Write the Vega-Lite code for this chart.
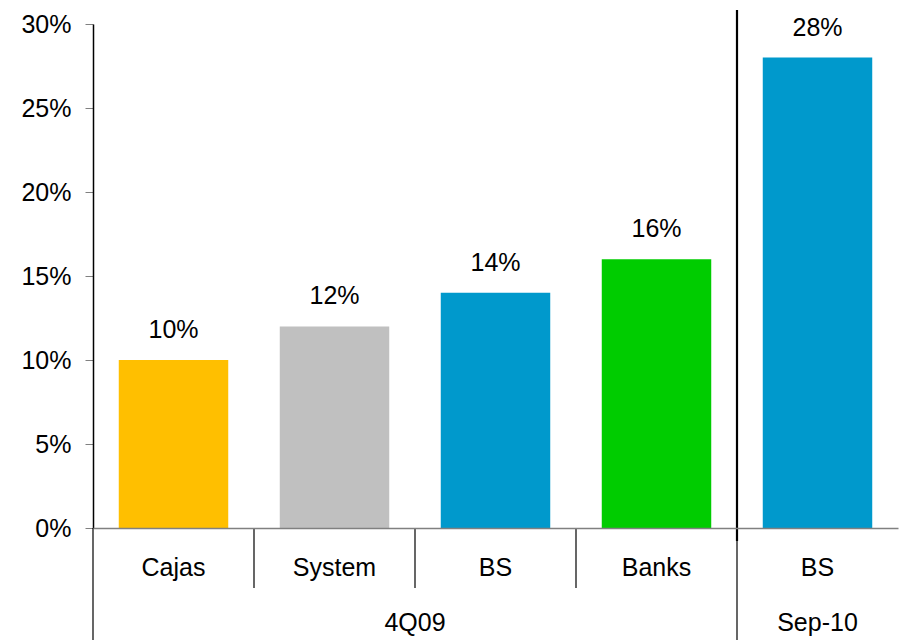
{
  "$schema": "https://vega.github.io/schema/vega-lite/v6.json",
  "width": 805,
  "height": 504,
  "autosize": {"type": "none"},
  "padding": {"left": 93, "top": 24, "right": 1, "bottom": 112},
  "background": "white",
  "config": {
    "font": "Liberation Sans",
    "view": {"stroke": null},
    "axis": {"grid": false}
  },
  "datasets": {
    "bars": [
      {"k": "Cajas", "v": 0.10},
      {"k": "System", "v": 0.12},
      {"k": "BS1", "v": 0.14},
      {"k": "Banks", "v": 0.16},
      {"k": "BS2", "v": 0.28}
    ],
    "minor": [
      {"k": "System", "top": 0, "bottom": -0.0357},
      {"k": "BS1", "top": 0, "bottom": -0.0357},
      {"k": "Banks", "top": 0, "bottom": -0.0357}
    ],
    "major": [
      {"k": "Cajas", "top": 0, "bottom": -0.0667},
      {"k": "BS2", "top": 0, "bottom": -0.0667}
    ],
    "divider": [
      {"k": "BS2", "top": 0.3083, "bottom": -0.0077}
    ],
    "g1": [{"k": "BS1", "name": "4Q09", "y": -0.0565}],
    "g2": [{"k": "BS2", "name": "Sep-10", "y": -0.0565}]
  },
  "layer": [
    {
      "data": {"name": "bars"},
      "mark": {"type": "bar", "width": {"band": 0.68}},
      "encoding": {
        "x": {
          "field": "k",
          "type": "nominal",
          "scale": {"type": "band", "domain": ["Cajas", "System", "BS1", "Banks", "BS2"], "paddingInner": 0, "paddingOuter": 0},
          "axis": {
            "title": null,
            "labelAngle": 0,
            "labelExpr": "datum.value == 'BS1' || datum.value == 'BS2' ? 'BS' : datum.value",
            "labelFontSize": 25,
            "labelColor": "black",
            "labelBaseline": "middle",
            "labelPadding": 39,
            "ticks": false,
            "domainColor": "#808080",
            "domainWidth": 1.5,
            "zindex": 1
          }
        },
        "y": {
          "field": "v",
          "type": "quantitative",
          "scale": {"domain": [0, 0.3], "nice": false, "zero": false},
          "axis": {
            "title": null,
            "values": [0, 0.05, 0.1, 0.15, 0.2, 0.25, 0.3],
            "format": ".0%",
            "labelFontSize": 25,
            "labelColor": "black",
            "labelPadding": 14,
            "tickSize": 8,
            "tickColor": "#808080",
            "domainColor": "black",
            "domainWidth": 1.5
          }
        },
        "color": {
          "field": "k",
          "type": "nominal",
          "scale": {"domain": ["Cajas", "System", "BS1", "Banks", "BS2"], "range": ["#FFBF00", "#C0C0C0", "#0099CC", "#00CC00", "#0099CC"]},
          "legend": null
        }
      }
    },
    {
      "data": {"name": "bars"},
      "mark": {"type": "text", "fontSize": 25, "baseline": "alphabetic", "dy": -22, "color": "black"},
      "encoding": {
        "x": {"field": "k", "type": "nominal"},
        "y": {"field": "v", "type": "quantitative"},
        "text": {"field": "v", "type": "quantitative", "format": ".0%"}
      }
    },
    {
      "data": {"name": "minor"},
      "mark": {"type": "rule", "color": "black", "strokeWidth": 1.2},
      "encoding": {
        "x": {"field": "k", "type": "nominal", "bandPosition": 0},
        "y": {"field": "top", "type": "quantitative"},
        "y2": {"field": "bottom"}
      }
    },
    {
      "data": {"name": "major"},
      "mark": {"type": "rule", "color": "black", "strokeWidth": 1.2},
      "encoding": {
        "x": {"field": "k", "type": "nominal", "bandPosition": 0},
        "y": {"field": "top", "type": "quantitative"},
        "y2": {"field": "bottom"}
      }
    },
    {
      "data": {"name": "divider"},
      "mark": {"type": "rule", "color": "black", "strokeWidth": 2.2},
      "encoding": {
        "x": {"field": "k", "type": "nominal", "bandPosition": 0},
        "y": {"field": "top", "type": "quantitative"},
        "y2": {"field": "bottom"}
      }
    },
    {
      "data": {"name": "g1"},
      "mark": {"type": "text", "fontSize": 25, "baseline": "middle", "color": "black"},
      "encoding": {
        "x": {"field": "k", "type": "nominal", "bandPosition": 0},
        "y": {"field": "y", "type": "quantitative"},
        "text": {"field": "name"}
      }
    },
    {
      "data": {"name": "g2"},
      "mark": {"type": "text", "fontSize": 25, "baseline": "middle", "color": "black"},
      "encoding": {
        "x": {"field": "k", "type": "nominal", "bandPosition": 0.5},
        "y": {"field": "y", "type": "quantitative"},
        "text": {"field": "name"}
      }
    }
  ]
}
